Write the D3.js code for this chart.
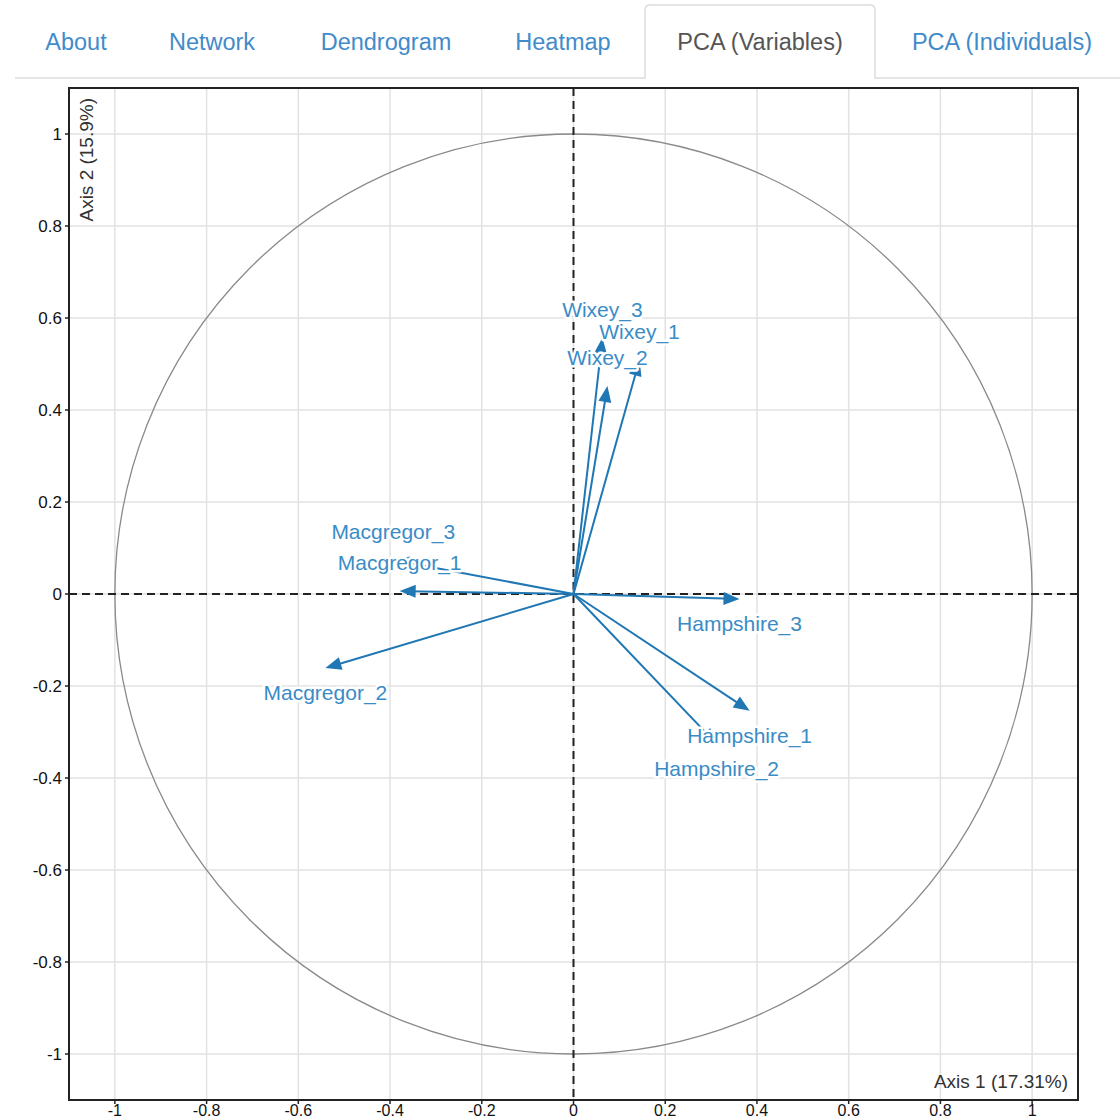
<!DOCTYPE html>
<html><head><meta charset="utf-8">
<script src="https://cdn.jsdelivr.net/npm/d3@7"></script>
<style>
body{margin:0;background:#fff;font-family:"Liberation Sans",Arial,sans-serif;}
</style></head>
<body><svg id="chart" width="1120" height="1120"></svg>
<script>
const tabs = ["About","Network","Dendrogram","Heatmap","PCA (Variables)","PCA (Individuals)"];
const activeTab = "PCA (Variables)";
const variables = ["Hampshire_1","Hampshire_2","Hampshire_3","Macgregor_1","Macgregor_2","Macgregor_3","Wixey_1","Wixey_2","Wixey_3"];
const axis1 = [0.384, 0.312, 0.362, -0.379, -0.541, -0.393, 0.144, 0.074, 0.063];
const axis2 = [-0.254, -0.326, -0.011, 0.0065, -0.161, 0.074, 0.509, 0.452, 0.557];
const ticks = [-1,-0.8,-0.6,-0.4,-0.2,0,0.2,0.4,0.6,0.8,1];
const tickLabels = ["-1","-0.8","-0.6","-0.4","-0.2","0","0.2","0.4","0.6","0.8","1"];
const xTitle = "Axis 1 (17.31%)";
const yTitle = "Axis 2 (15.9%)";

const svg = d3.select("#chart");
const col = "#1f77b4";

// tabs
const tabX = [76,212,386,563,760,1002];
svg.append("line").attr("x1",15).attr("x2",1120).attr("y1",78).attr("y2",78).attr("stroke","#ddd").attr("stroke-width",1.5);
const ai = tabs.indexOf(activeTab);
svg.append("path")
  .attr("d","M645,78 L645,10 Q645,5 650,5 L870,5 Q875,5 875,10 L875,78")
  .attr("fill","#fff").attr("stroke","#ddd").attr("stroke-width",1.5);
svg.append("line").attr("x1",646).attr("x2",874).attr("y1",78).attr("y2",78).attr("stroke","#fff").attr("stroke-width",2);
svg.selectAll("text.tab").data(tabs).join("text").attr("class","tab")
  .attr("x",(d,i)=>tabX[i]).attr("y",50).attr("text-anchor","middle")
  .attr("font-size",23.5).attr("fill",(d,i)=>i===ai?"#555":"#428bca").text(d=>d);

// plot
const L=69, R=1078, T=88, B=1100;
const x = d3.scaleLinear().domain([-1.1,1.1]).range([L,R]);
const y = d3.scaleLinear().domain([-1.1,1.1]).range([B,T]);
const fmt = (d,i) => tickLabels[i];

const g = svg.append("g");
g.append("defs").append("clipPath").attr("id","clip").append("rect").attr("x",L).attr("y",T).attr("width",R-L).attr("height",B-T);

// grid
g.append("g").selectAll("line").data(ticks).join("line")
  .attr("x1",d=>x(d)).attr("x2",d=>x(d)).attr("y1",T).attr("y2",B).attr("stroke","#e2e2e2").attr("stroke-width",1.5);
g.append("g").selectAll("line").data(ticks).join("line")
  .attr("y1",d=>y(d)).attr("y2",d=>y(d)).attr("x1",L).attr("x2",R).attr("stroke","#e2e2e2").attr("stroke-width",1.5);

// unit circle
g.append("ellipse").attr("cx",x(0)).attr("cy",y(0)).attr("rx",x(1)-x(0)).attr("ry",y(0)-y(1))
  .attr("fill","none").attr("stroke","#8a8a8a").attr("stroke-width",1.3);

// zero lines
g.append("line").attr("x1",x(0)).attr("x2",x(0)).attr("y1",T).attr("y2",B).attr("stroke","#222").attr("stroke-width",2).attr("stroke-dasharray","8,5");
g.append("line").attr("y1",y(0)).attr("y2",y(0)).attr("x1",L).attr("x2",R).attr("stroke","#222").attr("stroke-width",2).attr("stroke-dasharray","8,5");

const data = variables.map((v,i)=>({name:v, a1:axis1[i], a2:axis2[i]}));
const pts = g.append("g").attr("clip-path","url(#clip)");
pts.selectAll("line").data(data).join("line")
  .attr("x1",x(0)).attr("y1",y(0))
  .attr("x2",d=>{const dx=x(d.a1)-x(0), dy=y(d.a2)-y(0), len=Math.hypot(dx,dy); return x(d.a1)-dx/len*8;})
  .attr("y2",d=>{const dx=x(d.a1)-x(0), dy=y(d.a2)-y(0), len=Math.hypot(dx,dy); return y(d.a2)-dy/len*8;})
  .attr("stroke",col).attr("stroke-width",2);
pts.selectAll("path.head").data(data).join("path").attr("class","head")
  .attr("d",d=>{
    const tx=x(d.a1), ty=y(d.a2), ang=Math.atan2(ty-y(0), tx-x(0));
    const c=Math.cos(ang), s=Math.sin(ang), l=16, w=6.5;
    const bx=tx-c*l, by=ty-s*l;
    return `M${tx},${ty} L${bx-s*w},${by+c*w} L${bx+s*w},${by-c*w} Z`;
  }).attr("fill",col);

// labels
pts.selectAll("text").data(data).join("text")
  .attr("x",d=>x(d.a1)).attr("y",d=>d.a2>0? y(d.a2)-21 : y(d.a2)+32)
  .attr("text-anchor","middle").attr("font-size",21)
  .attr("fill","#3a8cc6").attr("stroke","#fff").attr("stroke-width",5).attr("paint-order","stroke")
  .attr("stroke-linejoin","round").text(d=>d.name);

// frame
g.append("rect").attr("x",L).attr("y",T).attr("width",R-L).attr("height",B-T).attr("fill","none").attr("stroke","#222").attr("stroke-width",2);

// ticks
g.append("g").selectAll("line").data(ticks).join("line")
  .attr("x1",L-4).attr("x2",L).attr("y1",d=>y(d)).attr("y2",d=>y(d)).attr("stroke","#222").attr("stroke-width",1.5);
g.append("g").selectAll("line").data(ticks).join("line")
  .attr("y1",B).attr("y2",B+4).attr("x1",d=>x(d)).attr("x2",d=>x(d)).attr("stroke","#222").attr("stroke-width",1.5);
g.append("g").selectAll("text").data(ticks).join("text")
  .attr("x",L-7).attr("y",d=>y(d)+6).attr("text-anchor","end").attr("font-size",17).attr("fill","#111").text(fmt);
g.append("g").selectAll("text").data(ticks).join("text")
  .attr("x",d=>x(d)).attr("y",1116).attr("text-anchor","middle").attr("font-size",16).attr("fill","#111").text(fmt);

// axis titles
g.append("text").attr("x",R-10).attr("y",B-12).attr("text-anchor","end").attr("font-size",19).attr("fill","#333").text(xTitle);
g.append("text").attr("transform",`translate(${L+24},${T+10}) rotate(-90)`).attr("text-anchor","end").attr("font-size",19).attr("fill","#333").text(yTitle);
</script></body></html>
